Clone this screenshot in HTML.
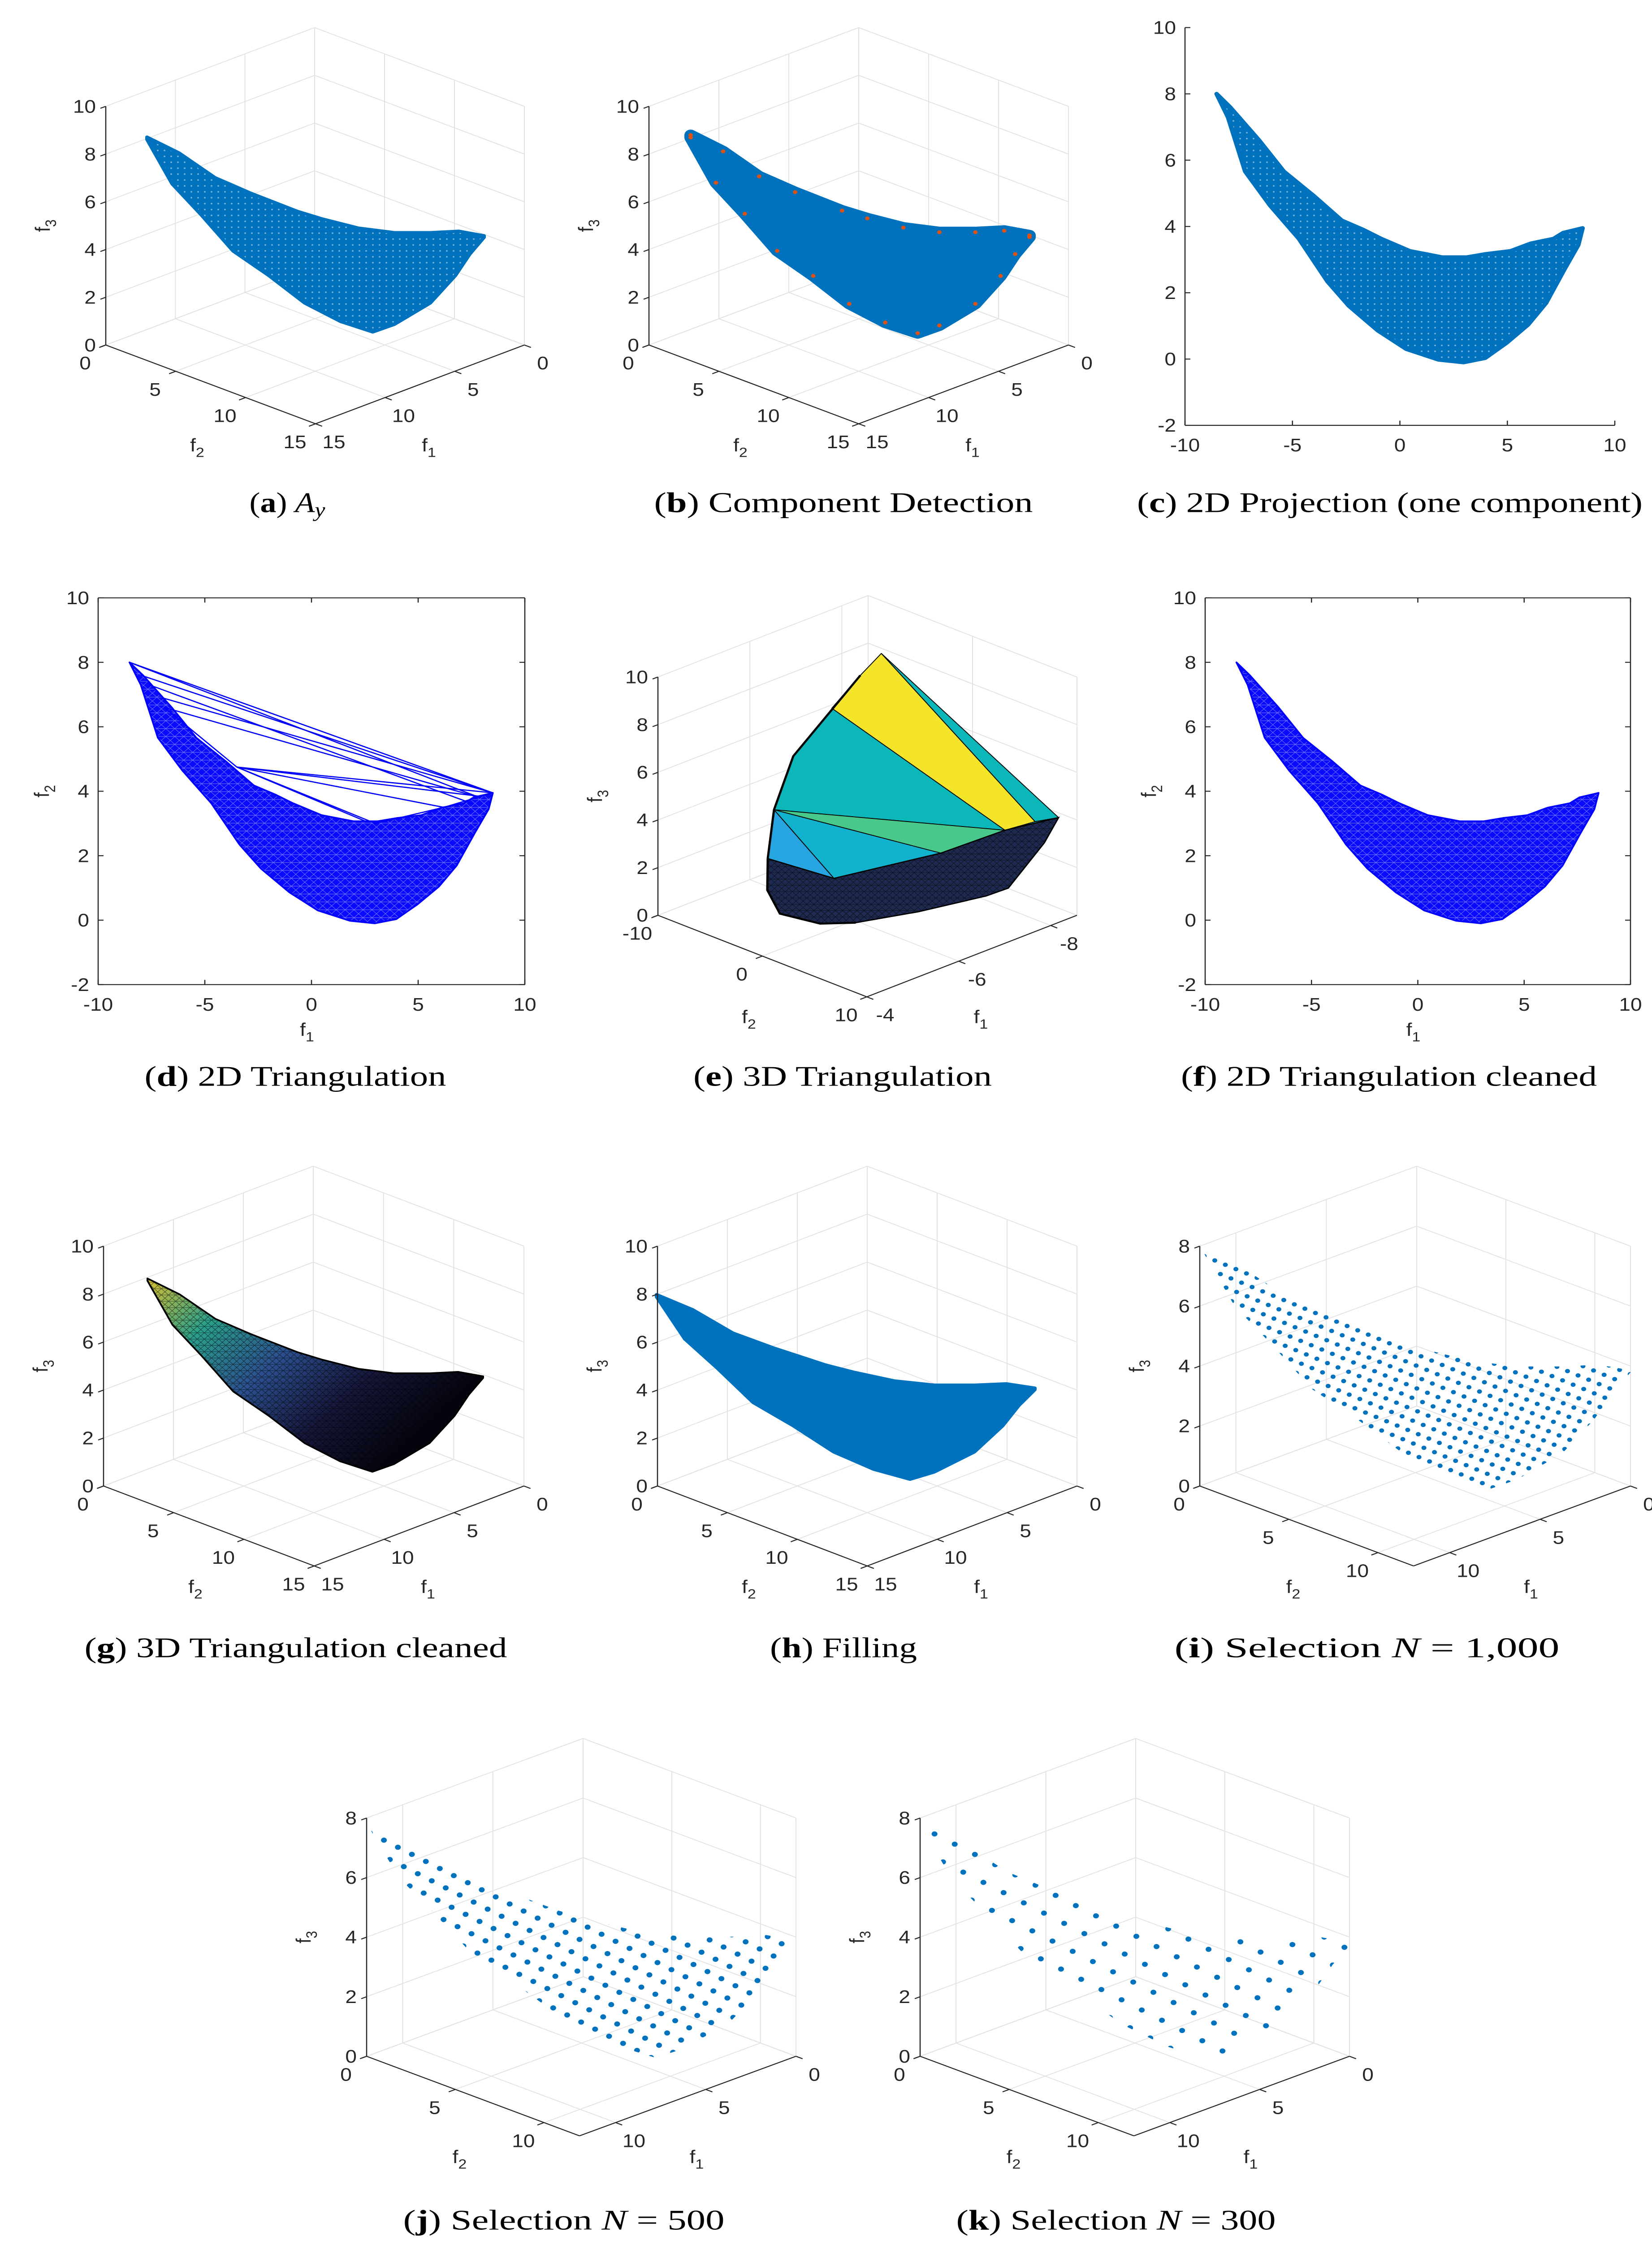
<!DOCTYPE html>
<html><head><meta charset="utf-8">
<style>
html,body{margin:0;padding:0;background:#fff;width:100%;height:100%;overflow:hidden;}
svg{display:block;width:100%;height:100%;}
text{font-family:"Liberation Sans",sans-serif;fill:#262626;}
.cap{font-family:"Liberation Serif",serif;fill:#000;}
</style></head>
<body>
<svg id="fig" xmlns="http://www.w3.org/2000/svg" viewBox="0 0 3686 5690" preserveAspectRatio="none">
<defs>
<pattern id="pDense" width="15" height="15" patternUnits="userSpaceOnUse"><rect width="15" height="15" fill="#0072bd"/><circle cx="7" cy="7" r="2" fill="#fff" opacity="0.45"/></pattern>
<pattern id="pI" width="26" height="26" patternUnits="userSpaceOnUse" patternTransform="rotate(25)"><circle cx="13" cy="13" r="5.5" fill="#0072bd"/></pattern>
<pattern id="pJ" width="36" height="36" patternUnits="userSpaceOnUse" patternTransform="rotate(30)"><circle cx="18" cy="18" r="6.5" fill="#0072bd"/></pattern>
<pattern id="pK" width="52" height="52" patternUnits="userSpaceOnUse" patternTransform="rotate(30)"><circle cx="26" cy="26" r="6.5" fill="#0072bd"/></pattern>
<pattern id="pMesh" width="20" height="20" patternUnits="userSpaceOnUse"><rect width="20" height="20" fill="#0a0aff"/><path d="M0 0L20 20M0 20L20 0M0 10H20" stroke="#fff" stroke-width="1" opacity="0.45"/></pattern>
<pattern id="pDark" width="16" height="16" patternUnits="userSpaceOnUse"><path d="M0 0L16 16M0 16L16 0M0 8H16" stroke="#000" stroke-width="1.2" opacity="0.55"/></pattern>
<linearGradient id="gG" gradientUnits="userSpaceOnUse" x1="329" y1="3246" x2="835" y2="3737">
<stop offset="0" stop-color="#d8c030"/><stop offset="0.25" stop-color="#2aa08c"/><stop offset="0.5" stop-color="#2c4f8e"/><stop offset="0.75" stop-color="#16163a"/><stop offset="1" stop-color="#050510"/></linearGradient>
</defs>

<g>
<text class="cap" x="641" y="1300" font-size="72" text-anchor="middle">(<tspan font-weight="bold">a</tspan>) <tspan font-style="italic">A</tspan><tspan font-style="italic" font-size="52" dy="12">y</tspan></text>
<text class="cap" x="1882" y="1300" font-size="72" text-anchor="middle" textLength="845" lengthAdjust="spacingAndGlyphs">(<tspan font-weight="bold">b</tspan>) Component Detection</text>
<text class="cap" x="3101" y="1300" font-size="72" text-anchor="middle" textLength="1128" lengthAdjust="spacingAndGlyphs">(<tspan font-weight="bold">c</tspan>) 2D Projection (one component)</text>
<text class="cap" x="659" y="2757" font-size="72" text-anchor="middle" textLength="673" lengthAdjust="spacingAndGlyphs">(<tspan font-weight="bold">d</tspan>) 2D Triangulation</text>
<text class="cap" x="1880" y="2757" font-size="72" text-anchor="middle" textLength="666" lengthAdjust="spacingAndGlyphs">(<tspan font-weight="bold">e</tspan>) 3D Triangulation</text>
<text class="cap" x="3099" y="2757" font-size="72" text-anchor="middle" textLength="928" lengthAdjust="spacingAndGlyphs">(<tspan font-weight="bold">f</tspan>) 2D Triangulation cleaned</text>
<text class="cap" x="660" y="4208" font-size="72" text-anchor="middle" textLength="943" lengthAdjust="spacingAndGlyphs">(<tspan font-weight="bold">g</tspan>) 3D Triangulation cleaned</text>
<text class="cap" x="1882" y="4208" font-size="72" text-anchor="middle" textLength="328" lengthAdjust="spacingAndGlyphs">(<tspan font-weight="bold">h</tspan>) Filling</text>
<text class="cap" x="3050" y="4208" font-size="72" text-anchor="middle" textLength="859" lengthAdjust="spacingAndGlyphs">(<tspan font-weight="bold">i</tspan>) Selection <tspan font-style="italic">N</tspan> = 1,000</text>
<text class="cap" x="1258" y="5661" font-size="72" text-anchor="middle" textLength="717" lengthAdjust="spacingAndGlyphs">(<tspan font-weight="bold">j</tspan>) Selection <tspan font-style="italic">N</tspan> = 500</text>
<text class="cap" x="2490" y="5661" font-size="72" text-anchor="middle" textLength="713" lengthAdjust="spacingAndGlyphs">(<tspan font-weight="bold">k</tspan>) Selection <tspan font-style="italic">N</tspan> = 300</text>
</g>
</svg>
<script>
// ---- 2D projected front (panel c, d, f) ----
const upperP1=[-8.53,-7.9,-6.55,-5.4,-4.0,-2.7,-1.7,-0.87,0.47,1.97,3.1,4.0,5.15,6.1,7.15,7.6,8.5];
const upperP2=[8.0,7.6,6.6,5.66,4.92,4.18,3.9,3.63,3.26,3.07,3.07,3.17,3.26,3.49,3.63,3.81,3.95];
const lowerP1=[-8.53,-8.0,-7.2,-6.05,-4.7,-3.37,-2.37,-1.03,0.3,1.8,2.97,3.97,4.97,5.97,6.8,7.65,8.3,8.5];
const lowerP2=[8.0,7.3,5.66,4.64,3.63,2.34,1.6,0.86,0.3,-0.02,-0.1,0.03,0.49,1.04,1.69,2.7,3.44,3.95];
// ---- 3D surface outline in projected units ----
const surfUpperP1=[-8.53,-6.9,-5.09,-3.28,-0.92,0.35,2.16,3.97,5.78,7.23,8.5];
const surfUpperP2=[8.0,7.33,6.3,5.65,4.89,4.57,4.19,4.0,4.0,4.06,3.87];
const surfLowerP1=[-8.53,-7.26,-5.81,-4.18,-2.37,-0.56,1.25,2.88,3.97,5.78,7.05,7.78,8.5];
const surfLowerP2=[7.9,6.04,4.76,3.23,2.2,1.05,0.28,-0.16,0.16,1.05,2.2,3.1,3.8];
// ---- (d) hull edges ----
const hullFromP1=[-8.53,-8.53,-8.0,-7.6,-7.0,-6.9,-3.5,-3.5,-3.5,-3.5,-3.5,-6.9,3.0,6.2];
const hullFromP2=[8.0,8.0,7.6,7.3,6.9,6.6,4.75,4.75,4.75,4.75,4.75,6.6,3.0,3.5];
const hullToP1=[8.5,7.9,8.5,7.6,8.5,7.9,8.5,7.8,6.2,3.0,2.6,-3.5,6.2,8.5];
const hullToP2=[3.95,3.8,3.95,3.6,3.95,3.8,3.95,3.85,3.5,3.0,3.05,4.75,3.5,3.95];
// ---- (e) 3D triangulation vertices (horizontal unit h, f3) ----
const eVertH=[5.33,4.83,4.15,8.28,9.0,9.56,2.77,6.75,4.2,2.62,3.23,2.61,2.91,3.87,4.72,6.22,7.83,8.36,9.22];
const eVertF3=[10.99,10.07,8.69,3.57,3.93,4.10,4.43,2.61,1.55,2.38,6.68,1.06,0.07,-0.35,-0.31,0.15,0.81,1.14,3.04];
const eFaces=[[0,5,4],[0,4,3,2,1],[1,2,3,6,10],[6,3,7],[6,7,8],[6,8,9],[3,4,5],[9,8,7,3,5,18,17,16,15,14,13,12,11]];
const eFaceColors=['#0bb7b9','#f4e52a','#0bb7b9','#48c98b','#12b2cf','#26a5e0','#0bb7b9','#1f2a50'];
// ---- tick labels ----
const xTicks2D=[-10,-5,0,5,10];
const yTicks2D=[-2,0,2,4,6,8,10];

const NS='http://www.w3.org/2000/svg';
const root=document.getElementById('fig');
const FS=46;
function mk(tag,parent,name,attrs){
  const e=document.createElementNS(NS,tag);
  
  
  for(const k in attrs) e.setAttribute(k,attrs[k]);
  parent.appendChild(e);
  return e;
}
function txt(parent,name,x,y,s,size,anchor){
  const t=mk('text',parent,name,{x:x,y:y,'font-size':size,'text-anchor':anchor||'middle'});
  t.textContent=s; return t;
}
function subTitle(parent,name,x,y,sub,rot){
  const t=mk('text',parent,name,{x:x,y:y,'font-size':46,'text-anchor':'middle'});
  if(rot) t.setAttribute('transform','rotate(-90 '+x+' '+y+')');
  const a=document.createElementNS(NS,'tspan'); a.textContent='f'; t.appendChild(a);
  const b=document.createElementNS(NS,'tspan'); b.textContent=sub;
  b.setAttribute('font-size','34'); b.setAttribute('dy','14'); t.appendChild(b);
  return t;
}
function ln(parent,name,p,q,col,w){
  return mk('line',parent,name,{x1:p[0],y1:p[1],x2:q[0],y2:q[1],stroke:col,'stroke-width':w});
}

// ---------- 2D axes ----------
function ax2d(o){
  const g=mk('g',root,'panel-'+o.id,{});
  const X=v=>o.x0+(v-(-10))/20*(o.x1-o.x0);
  const Y=v=>o.yB-(v-(-2))/12*(o.yB-o.yT);
  o.X=X; o.Y=Y; o.g=g;
  const dg=mk('g',g,'data-layer',{});
  o.dataLayer=dg;
  const ax=mk('g',g,'axes',{});
  ln(ax,'x-axis-line',[o.x0,o.yB],[o.x1,o.yB],'#262626',2.5);
  ln(ax,'y-axis-line',[o.x0,o.yB],[o.x0,o.yT],'#262626',2.5);
  if(o.box){
    ln(ax,'box-top',[o.x0,o.yT],[o.x1,o.yT],'#262626',2.5);
    ln(ax,'box-right',[o.x1,o.yB],[o.x1,o.yT],'#262626',2.5);
  }
  xTicks2D.forEach(v=>{
    ln(ax,'x-tick',[X(v),o.yB],[X(v),o.yB-12],'#262626',2.5);
    if(o.box) ln(ax,'x-tick-top',[X(v),o.yT],[X(v),o.yT+12],'#262626',2.5);
    txt(ax,'x-tick-label',X(v),o.yB+66,String(v),FS);
  });
  yTicks2D.forEach(v=>{
    ln(ax,'y-tick',[o.x0,Y(v)],[o.x0+12,Y(v)],'#262626',2.5);
    if(o.box) ln(ax,'y-tick-right',[o.x1,Y(v)],[o.x1-12,Y(v)],'#262626',2.5);
    txt(ax,'y-tick-label',o.x0-20,Y(v)+16,String(v),FS,'end');
  });
  if(o.titles){
    subTitle(ax,'x-axis-title',(o.x0+o.x1)/2-10,o.yB+130,'1',false);
    subTitle(ax,'y-axis-title',o.x0-110,(o.yT+o.yB)/2,'2',true);
  }
  return o;
}
function frontPoly(X,Y){
  const pts=[];
  for(let i=0;i<upperP1.length;i++) pts.push(X(upperP1[i]).toFixed(1)+','+Y(upperP2[i]).toFixed(1));
  for(let i=lowerP1.length-1;i>=0;i--) pts.push(X(lowerP1[i]).toFixed(1)+','+Y(lowerP2[i]).toFixed(1));
  return pts.join(' ');
}

const c=ax2d({id:'c',x0:2644,x1:3603,yT:70,yB:1080,box:false,titles:false});
mk('polygon',c.dataLayer,'point-cloud-2d',{points:frontPoly(c.X,c.Y),fill:'url(#pDense)',stroke:'#0072bd','stroke-width':10,'stroke-linejoin':'round'});

const d=ax2d({id:'d',x0:219,x1:1171,yT:1518,yB:2500,box:true,titles:true});
mk('polygon',d.dataLayer,'triangulation-mesh',{points:frontPoly(d.X,d.Y),fill:'url(#pMesh)',stroke:'#0000ff','stroke-width':4,'stroke-linejoin':'round'});
for(let i=0;i<hullFromP1.length;i++){
  ln(d.dataLayer,'hull-edge',[d.X(hullFromP1[i]),d.Y(hullFromP2[i])],[d.X(hullToP1[i]),d.Y(hullToP2[i])],'#0000ff',3);
}
const f=ax2d({id:'f',x0:2689,x1:3638,yT:1518,yB:2500,box:true,titles:true});
mk('polygon',f.dataLayer,'triangulation-mesh-cleaned',{points:frontPoly(f.X,f.Y),fill:'url(#pMesh)',stroke:'#0000ff','stroke-width':4,'stroke-linejoin':'round'});

// ---------- 3D boxes ----------
const Z10=['0','2','4','6','8','10'], Z8=['0','2','4','6','8'];
const T15=['0','5','10','15'], F15=[0,1/3,2/3,1];
const T10=['0','5','10'], F10=[0,5/12,10/12];
const panels=[
 {id:'a',lx:236,z0y:876,cx:702,rx:1170,H:606,d:200,zl:Z10,f2l:T15,f2f:F15,f1l:T15,f1f:F15,tl:[328,348],bt:[832,843],rt:[1080,598]},
 {id:'b',lx:1448,z0y:876,cx:1916,rx:2384,H:606,d:200,zl:Z10,f2l:T15,f2f:F15,f1l:T15,f1f:F15,tl:[1541,343],bt:[2048,846],rt:[2297,597]},
 {id:'e',lx:1468,z0y:2324,cx:1937,rx:2403,H:605,d:207,zl:Z10,f2l:['-10','0','10'],f2f:[0,0.5,1],f1l:['-8','-6','-4'],f1f:[0.125,0.5625,1]},
 {id:'g',lx:231,z0y:3773,cx:699,rx:1169,H:609,d:203,zl:Z10,f2l:T15,f2f:F15,f1l:T15,f1f:F15,tl:[329,3246],bt:[835,3737],rt:[1078,3493]},
 {id:'h',lx:1467,z0y:3773,cx:1935,rx:2403,H:609,d:203,zl:Z10,f2l:T15,f2f:F15,f1l:T15,f1f:F15,tl:[1465,3287],bt:[2028,3756],rt:[2309,3493]},
 {id:'i',lx:2677,z0y:3773,cx:3161,rx:3638,H:609,d:203,zl:Z8,f2l:T10,f2f:F10,f1l:T10,f1f:F10,tl:[2684,3170],bt:[3328,3781],rt:[3638,3478]},
 {id:'j',lx:818,z0y:5221,cx:1301,rx:1776,H:605,d:202,zl:Z8,f2l:T10,f2f:F10,f1l:T10,f1f:F10,tl:[818,4622],bt:[1474,5225],rt:[1781,4928]},
 {id:'k',lx:2053,z0y:5221,cx:2534,rx:3011,H:605,d:202,zl:Z8,f2l:T10,f2f:F10,f1l:T10,f1f:F10,tl:[2053,4627],bt:[2712,5229],rt:[3014,4935]}
];
function box3d(b){
  const g=mk('g',root,'panel-'+b.id,{});
  const P=(u,v,w)=>[b.cx+u*(b.lx-b.cx)+v*(b.rx-b.cx),(b.z0y-b.d)+u*b.d+v*b.d-w*b.H];
  const gr=mk('g',g,'grid',{});
  const GC='#e2e2e2';
  const zf=b.zl.map((_,i)=>i/(b.zl.length-1));
  zf.forEach(w=>{ln(gr,'grid-line',P(0,0,w),P(1,0,w),GC,2);ln(gr,'grid-line',P(0,0,w),P(0,1,w),GC,2);});
  const uf=[0].concat(b.f1f,[1]), vf=[0].concat(b.f2f,[1]);
  uf.forEach(u=>{ln(gr,'grid-line',P(u,0,0),P(u,0,1),GC,2);ln(gr,'grid-line',P(u,0,0),P(u,1,0),GC,2);});
  vf.forEach(v=>{ln(gr,'grid-line',P(0,v,0),P(0,v,1),GC,2);ln(gr,'grid-line',P(0,v,0),P(1,v,0),GC,2);});
  const dl=mk('g',g,'data-layer',{});
  const ax=mk('g',g,'axes',{});
  ln(ax,'z-axis-line',P(1,0,0),P(1,0,1),'#262626',2.5);
  ln(ax,'f2-axis-line',P(1,0,0),P(1,1,0),'#262626',2.5);
  ln(ax,'f1-axis-line',P(0,1,0),P(1,1,0),'#262626',2.5);
  zf.forEach((w,i)=>{const p=P(1,0,w);
    ln(ax,'z-tick',p,[p[0]-12,p[1]+5],'#262626',2.5);
    txt(ax,'z-tick-label',p[0]-22,p[1]+16,b.zl[i],FS,'end');});
  const ul=Math.hypot(b.lx-b.cx,b.d), vl=Math.hypot(b.rx-b.cx,b.d);
  b.f2f.forEach((v,i)=>{const p=P(1,v,0);
    ln(ax,'f2-tick',p,[p[0]+(b.lx-b.cx)/ul*16,p[1]+b.d/ul*16],'#262626',2.5);
    txt(ax,'f2-tick-label',p[0]-46,p[1]+62,b.f2l[i],FS);});
  b.f1f.forEach((u,i)=>{const p=P(u,1,0);
    ln(ax,'f1-tick',p,[p[0]+(b.rx-b.cx)/vl*16,p[1]+b.d/vl*16],'#262626',2.5);
    txt(ax,'f1-tick-label',p[0]+41,p[1]+62,b.f1l[i],FS);});
  const m2=P(1,0.5,0), m1=P(0.5,1,0);
  subTitle(ax,'f2-axis-title',m2[0]-30,m2[1]+170,'2',false);
  subTitle(ax,'f1-axis-title',m1[0]+20,m1[1]+170,'1',false);
  subTitle(ax,'f3-axis-title',b.lx-125,b.z0y-b.H/2,'3',true);
  b.dl=dl;
  if(b.tl){
    const T1=-8.53,T2=8.0,R1=8.5,B2=-0.16;
    const sx=(b.rt[0]-b.tl[0])/(R1-T1), sy=(b.bt[1]-b.tl[1])/(T2-B2);
    b.X=p=>b.tl[0]+(p-T1)*sx; b.Y=p=>b.tl[1]+(T2-p)*sy;
  }
  return b;
}
function surfPoly(b){
  const pts=[];
  for(let i=0;i<surfUpperP1.length;i++) pts.push(b.X(surfUpperP1[i]).toFixed(1)+','+b.Y(surfUpperP2[i]).toFixed(1));
  for(let i=surfLowerP1.length-1;i>=0;i--) pts.push(b.X(surfLowerP1[i]).toFixed(1)+','+b.Y(surfLowerP2[i]).toFixed(1));
  return pts.join(' ');
}
const B={};
panels.forEach(p=>{B[p.id]=box3d(p);});

// (a) point cloud
mk('polygon',B.a.dl,'point-cloud-3d',{points:surfPoly(B.a),fill:'url(#pDense)',stroke:'#0072bd','stroke-width':8,'stroke-linejoin':'round'});
// (b) component detection
mk('polygon',B.b.dl,'component-cloud',{points:surfPoly(B.b),fill:'#0072bd',stroke:'#0072bd','stroke-width':28,'stroke-linejoin':'round'});
for(let i=0;i<surfUpperP1.length;i++){
  mk('circle',B.b.dl,'boundary-marker',{cx:B.b.X(surfUpperP1[i]),cy:B.b.Y(surfUpperP2[i]),r:5,fill:'#d95319'});
}
for(let i=0;i<surfLowerP1.length;i++){
  mk('circle',B.b.dl,'boundary-marker',{cx:B.b.X(surfLowerP1[i]),cy:B.b.Y(surfLowerP2[i]),r:5,fill:'#d95319'});
}
// (e) 3D triangulation
(function(){
  const b=B.e;
  const EX=h=>b.lx+h*93.5, EY=z=>b.z0y-z*60.5;
  eFaces.forEach((face,fi)=>{
    const pts=face.map(k=>EX(eVertH[k]).toFixed(1)+','+EY(eVertF3[k]).toFixed(1)).join(' ');
    mk('polygon',b.dl,'triangulation-face',{points:pts,fill:eFaceColors[fi],stroke:'#000','stroke-width':2,'stroke-linejoin':'round'});
    if(fi===eFaces.length-1) mk('polygon',b.dl,'triangulation-face-mesh',{points:pts,fill:'url(#pDark)',stroke:'#000','stroke-width':3});
  });
  const edge=[1,10,6,9,11,12,13,14].map(k=>EX(eVertH[k]).toFixed(1)+','+EY(eVertF3[k]).toFixed(1)).join(' ');
  mk('polyline',b.dl,'outer-edge',{points:edge,fill:'none',stroke:'#000','stroke-width':5});
})();
// (g) cleaned 3D triangulation
mk('polygon',B.g.dl,'surface-cleaned',{points:surfPoly(B.g),fill:'url(#gG)',stroke:'#000','stroke-width':4,'stroke-linejoin':'round'});
mk('polygon',B.g.dl,'surface-cleaned-mesh',{points:surfPoly(B.g),fill:'url(#pDark)'});
// (h) filling
mk('polygon',B.h.dl,'filled-surface',{points:surfPoly(B.h),fill:'#0072bd',stroke:'#0072bd','stroke-width':8,'stroke-linejoin':'round'});
// (i),(j),(k) selections
mk('polygon',B.i.dl,'selection-1000',{points:surfPoly(B.i),fill:'url(#pI)'});
mk('polygon',B.j.dl,'selection-500',{points:surfPoly(B.j),fill:'url(#pJ)'});
mk('polygon',B.k.dl,'selection-300',{points:surfPoly(B.k),fill:'url(#pK)'});
</script>
</body></html>
